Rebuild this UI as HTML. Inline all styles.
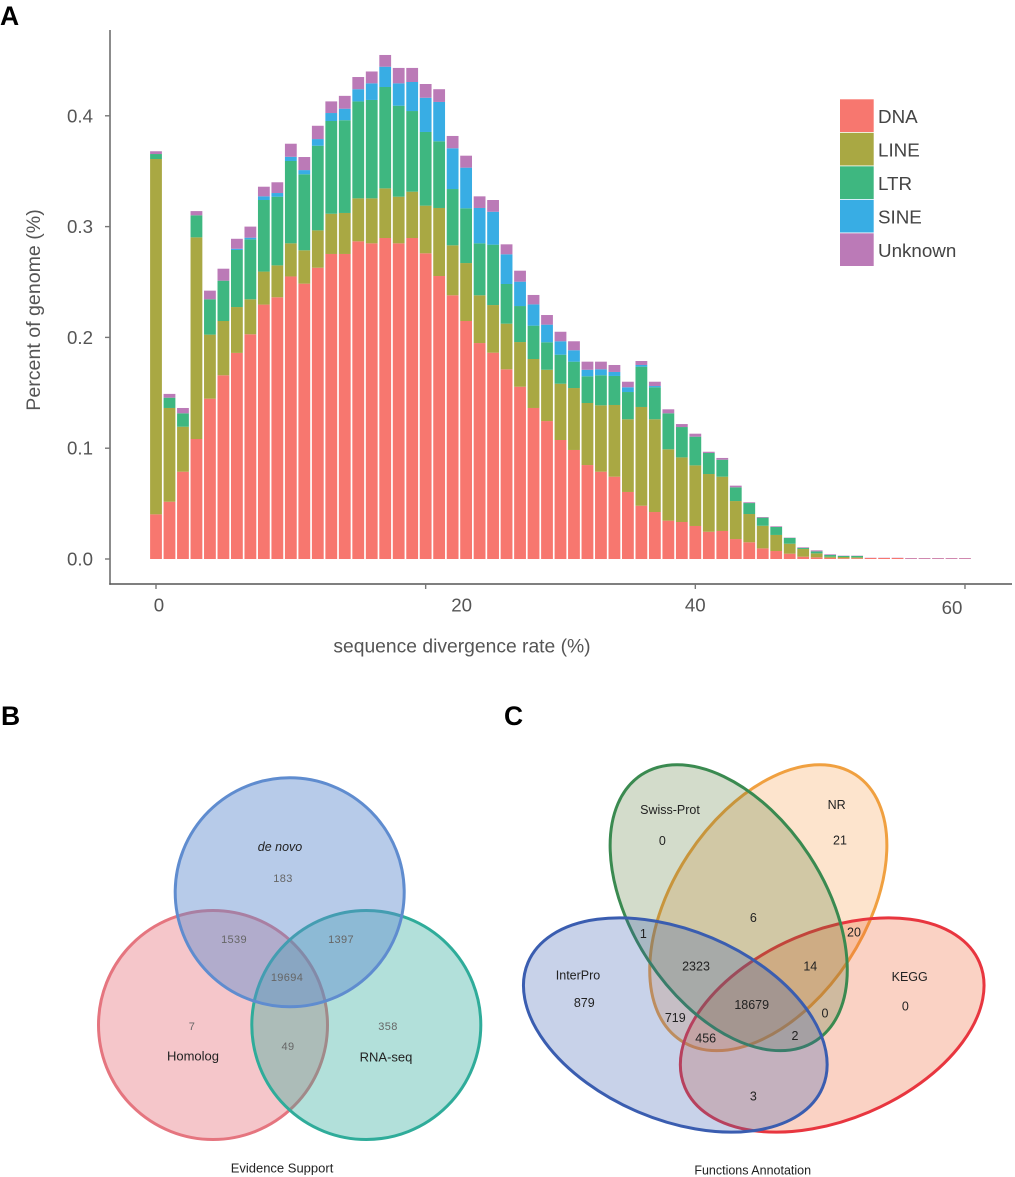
<!DOCTYPE html>
<html lang="en">
<head>
<meta charset="utf-8">
<title>Repeat divergence and Venn diagrams</title>
<style>
html,body{margin:0;padding:0;background:#fff;}
svg{display:block;font-family:"Liberation Sans",Arial,sans-serif;}
</style>
</head>
<body>
<svg id="figure" xmlns="http://www.w3.org/2000/svg" width="1015" height="1177" viewBox="0 0 1015 1177">
  <rect width="1015" height="1177" fill="#fff"/>
  <text x="0" y="25" font-size="26.5" font-weight="bold" fill="#000">A</text>
  <text x="1" y="725" font-size="26.5" font-weight="bold" fill="#000">B</text>
  <text x="504" y="725" font-size="26.5" font-weight="bold" fill="#000">C</text>

  <g id="chart"></g>

  <g>
    <circle cx="213" cy="1025" r="114.5" fill="#e5707a" fill-opacity=".4" stroke="#e5757f" stroke-width="3"/>
    <circle cx="366.3" cy="1025" r="114.5" fill="#2fac9a" fill-opacity=".37" stroke="#2fac9a" stroke-width="3"/>
    <circle cx="289.7" cy="892.3" r="114.5" fill="#5f8ccf" fill-opacity=".45" stroke="#5f8ccf" stroke-width="3"/>
    <g font-size="11" fill="#666" text-anchor="middle" dominant-baseline="central" letter-spacing="0.35">
      <text x="283" y="879">183</text>
      <text x="234" y="940">1539</text>
      <text x="341" y="940">1397</text>
      <text x="287" y="978">19694</text>
      <text x="192" y="1027">7</text>
      <text x="388" y="1027">358</text>
      <text x="288" y="1047">49</text>
    </g>
    <g font-size="13" fill="#222" text-anchor="middle" dominant-baseline="central">
      <text x="280" y="847" font-style="italic" font-size="12.5">de novo</text>
      <text x="193" y="1056">Homolog</text>
      <text x="386" y="1057">RNA-seq</text>
      <text x="282" y="1168">Evidence Support</text>
    </g>
  </g>

  <g>
    <ellipse cx="768.3" cy="907.7" rx="159" ry="96" transform="rotate(-56.7 768.3 907.7)" fill="#f9a55a" fill-opacity=".3" stroke="#f0a040" stroke-width="3"/>
    <ellipse cx="832.2" cy="1025" rx="160" ry="94.5" transform="rotate(-23 832.2 1025)" fill="#ee6a3a" fill-opacity=".3" stroke="#e8363f" stroke-width="3"/>
    <ellipse cx="728.7" cy="907.7" rx="159" ry="96" transform="rotate(56.7 728.7 907.7)" fill="#507430" fill-opacity=".25" stroke="#3a8a50" stroke-width="3"/>
    <ellipse cx="675.3" cy="1025" rx="160" ry="94.5" transform="rotate(23 675.3 1025)" fill="#3a5db0" fill-opacity=".28" stroke="#3a5db0" stroke-width="3"/>
    <g font-size="12.5" fill="#222" text-anchor="middle" dominant-baseline="central">
      <text x="670" y="810">Swiss-Prot</text>
      <text x="662.3" y="841">0</text>
      <text x="836.7" y="805">NR</text>
      <text x="840" y="840.7">21</text>
      <text x="753.3" y="918">6</text>
      <text x="643.3" y="934">1</text>
      <text x="854" y="932.7">20</text>
      <text x="696" y="966.3">2323</text>
      <text x="810.3" y="966.7">14</text>
      <text x="578" y="975.3">InterPro</text>
      <text x="584.3" y="1003">879</text>
      <text x="909.7" y="977">KEGG</text>
      <text x="905.3" y="1006.3">0</text>
      <text x="751.7" y="1005">18679</text>
      <text x="825" y="1013.3">0</text>
      <text x="675.3" y="1018">719</text>
      <text x="705.7" y="1038.7">456</text>
      <text x="795" y="1036">2</text>
      <text x="753.3" y="1096.7">3</text>
      <text x="752.7" y="1170.7">Functions Annotation</text>
    </g>
  </g>
</svg>
<script>
const divergence = [0,1,2,3,4,5,6,7,8,9,10,11,12,13,14,15,16,17,18,19,20,21,22,23,24,25,26,27,28,29,30,31,32,33,34,35,36,37,38,39,40,41,42,43,44,45,46,47,48,49,50,51,52,53,54,55,56,57,58,59,60];
const dnaValues = [.0403,.0517,.0788,.1083,.1447,.1658,.186,.2028,.2296,.2362,.255,.2485,.2629,.2753,.2753,.2867,.2849,.2897,.2849,.2897,.2759,.2554,.238,.2148,.1949,.1862,.1712,.1555,.1363,.1245,.1074,.0984,.0848,.0788,.0743,.0605,.0481,.0424,.0346,.0334,.0298,.0246,.0253,.018,.0151,.0096,.0072,.0048,.0021,.0015,.001,.0007,.0007,.0009,.0009,.0009,.0003,.0003,.0003,.0003,.0003];
const lineValues = [.3207,.0846,.0406,.182,.0578,.049,.0414,.0316,.0298,.0288,.0299,.0301,.0337,.0363,.037,.0388,.0406,.0448,.0421,.0418,.043,.0614,.0451,.0523,.0431,.043,.0412,.0403,.0442,.0463,.0508,.0559,.056,.0599,.0647,.0656,.0891,.0837,.0644,.0583,.0547,.0521,.049,.0343,.0255,.0204,.0145,.009,.0069,.0036,.0011,.0011,.0008,0,0,0,0,0,0,0,0];
const ltrValues = [.0045,.0093,.0121,.0199,.0319,.0364,.0515,.0541,.0646,.062,.0743,.0686,.0764,.0837,.0837,.0875,.0888,.0915,.0821,.0728,.0665,.0602,.0508,.0494,.0469,.0545,.0358,.0325,.0301,.0248,.0262,.0238,.0241,.0271,.0262,.0246,.0364,.0289,.0325,.0274,.0259,.019,.0153,.0124,.0099,.0073,.0072,.0052,.0009,.0018,.0015,.0009,.0012,0,0,0,0,0,0,0,0];
const sineValues = [0,0,0,0,0,0,.0011,.0015,.0033,.0033,.0038,.0038,.006,.0072,.0104,.011,.015,.0183,.0202,.0262,.0309,.0355,.0368,.0367,.0319,.0297,.0268,.022,.0192,.0159,.0121,.0103,.0059,.0054,.0036,.0043,.0015,.0011,0,0,0,0,0,0,0,0,0,0,0,0,0,0,0,0,0,0,0,0,0,0,0];
const unknownValues = [.0025,.0034,.0048,.0038,.0078,.0108,.009,.01,.0087,.0097,.0118,.0118,.012,.0105,.0116,.011,.0107,.0106,.0139,.0127,.0124,.0115,.0111,.0108,.0105,.0106,.009,.0099,.0085,.0087,.0086,.0081,.0073,.0069,.0063,.005,.0036,.0039,.0036,.0027,.0027,.0011,.0016,.0015,.0007,.0006,.0006,.0003,.0006,.0009,.0006,.0003,.0003,.0002,.0002,.0002,.0006,.0006,.0006,.0006,.0006];
const seriesNames = ["DNA","LINE","LTR","SINE","Unknown"];
const yTicks = [0,0.1,0.2,0.3,0.4];
const yTickLabels = ["0.0","0.1","0.2","0.3","0.4"];
const xTicks = [0,20,40,60];
const xTickLabels = ["0","20","40","60"];

const seriesColors = {DNA:"#f7776f",LINE:"#a9a843",LTR:"#3eb780",SINE:"#38ade4",Unknown:"#bb7ab7"};
const seriesData = {DNA:dnaValues,LINE:lineValues,LTR:ltrValues,SINE:sineValues,Unknown:unknownValues};
const NS = "http://www.w3.org/2000/svg";
const chart = document.getElementById("chart");
function xScale(v){return 156 + v * 13.483;}
function yScale(v){return 559 - v * 1108;}
function make(tag, attrs, text){
  const el = document.createElementNS(NS, tag);
  for (const k in attrs) el.setAttribute(k, attrs[k]);
  if (text !== undefined) el.textContent = text;
  chart.appendChild(el);
  return el;
}

// bars
divergence.forEach(function(d, i){
  let base = 0;
  seriesNames.forEach(function(name){
    const v = seriesData[name][i];
    if (v > 0) {
      const top = base + v;
      const bar = make("rect", {x: xScale(d) - 5.9, y: yScale(top), width: 11.8, height: yScale(base) - yScale(top), fill: seriesColors[name]});
      
      
    }
    base += v;
  });
});

// axes
const yAxisLine = make("line", {x1:110, y1:30, x2:110, y2:584.7, stroke:"#666", "stroke-width":1.5});


const xAxisLine = make("line", {x1:109.3, y1:584, x2:1012, y2:584, stroke:"#555", "stroke-width":1.5});



yTicks.forEach(function(t, i){
  const tick = make("line", {x1:105, y1:yScale(t), x2:110, y2:yScale(t), stroke:"#777", "stroke-width":1.4});
  
  
  const label = make("text", {x:93, y:yScale(t), "font-size":18.7, fill:"#555", "text-anchor":"end", "dominant-baseline":"central"}, yTickLabels[i]);
  
  
});

const xLabelNudge = [3, 36, 0, -13];
const xLabelDrop = [0, 0, 0, 2.5];
xTicks.forEach(function(t, i){
  const tick = make("line", {x1:xScale(t), y1:584, x2:xScale(t), y2:589, stroke:"#777", "stroke-width":1.4});
  
  
  const label = make("text", {x:xScale(t) + xLabelNudge[i], y:605 + xLabelDrop[i], "font-size":18.7, fill:"#555", "text-anchor":"middle", "dominant-baseline":"central"}, xTickLabels[i]);
  
  
});

const yTitle = make("text", {transform:"translate(34 310) rotate(-90)", "font-size":19.6, fill:"#555", "text-anchor":"middle", "dominant-baseline":"central"}, "Percent of genome (%)");


const xTitle = make("text", {x:462, y:647, "font-size":19.3, fill:"#555", "text-anchor":"middle", "dominant-baseline":"central"}, "sequence divergence rate (%)");



// legend
seriesNames.forEach(function(name, i){
  const top = 99.3 + i * 33.5;
  const swatch = make("rect", {x:840, y:top, width:33.7, height:32.7, fill:seriesColors[name]});
  
  
  const label = make("text", {x:878, y:top + 17, "font-size":18.8, fill:"#444", "dominant-baseline":"central"}, name);
  
  
});
</script>
</body>
</html>
